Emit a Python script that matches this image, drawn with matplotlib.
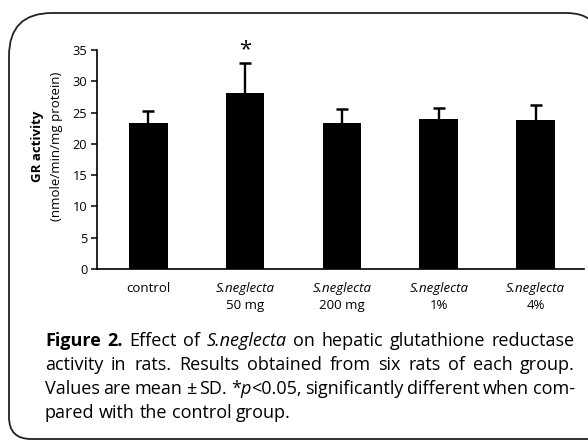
import matplotlib.pyplot as plt
from matplotlib.path import Path
from matplotlib.patches import PathPatch
import numpy as np

plt.rcParams['font.family'] = ['Open Sans', 'DejaVu Sans']

# data
names = ["control", "S.neglecta", "S.neglecta", "S.neglecta", "S.neglecta"]
doses = ["", "50 mg", "200 mg", "1%", "4%"]
means = [23.3, 28.2, 23.3, 24.0, 23.8]
sds = [2.0, 4.8, 2.2, 1.8, 2.4]
marks = ["", "*", "", "", ""]
y_ticks = [0, 5, 10, 15, 20, 25, 30, 35]

W, H = 588, 441
fig = plt.figure(figsize=(W / 100, H / 100), dpi=100)

# background axes in pixel coordinates for frame, labels and caption
bg = fig.add_axes([0, 0, 1, 1], zorder=0)
bg.set_xlim(0, W)
bg.set_ylim(H, 0)
bg.axis("off")

# rounded frame round the figure
verts = [(598, 40), (598, 13), (566, 13),
         (52, 13), (9, 13), (9, 56),
         (9, 417), (9, 439), (31, 439),
         (600, 439)]
codes = [Path.MOVETO, Path.CURVE3, Path.CURVE3,
         Path.LINETO, Path.CURVE3, Path.CURVE3,
         Path.LINETO, Path.CURVE3, Path.CURVE3,
         Path.LINETO]
bg.add_patch(PathPatch(Path(verts, codes), fill=False, lw=1.3, ec="#222222"))

ax = fig.add_axes([97 / W, (H - 269) / H, (584 - 97) / W, (269 - 50) / H], zorder=1)
ax.patch.set_alpha(0)
x = np.arange(len(means))
tops = np.array(means) + np.array(sds)
ax.bar(x, means, width=0.40, color="black")
ax.vlines(x, means, tops, color="black", lw=1.7)
ax.plot(x, tops, ls="none", marker="_", ms=8, mew=1.8, color="black")
for xi, t, mk in zip(x, tops, marks):
    if mk:
        ax.annotate(mk, xy=(xi, t), xytext=(0, 1.5), textcoords="offset points",
                    ha="center", va="bottom", fontsize=16)

ax.set_xlim(-0.53, 4.5)
ax.set_ylim(0, 35)
ax.set_yticks(y_ticks)
ax.tick_params(axis="y", length=4.5, width=1.1, labelsize=9.2, pad=2.5)
ax.set_xticks([])
for side in ["top", "right"]:
    ax.spines[side].set_visible(False)
for side in ["left", "bottom"]:
    ax.spines[side].set_linewidth(1.2)

for xi, n, d in zip(x, names, doses):
    style = "normal" if n == "control" else "italic"
    ax.annotate(n, xy=(xi, 0), xycoords=("data", "axes fraction"), xytext=(0, -14),
                textcoords="offset points", ha="center", va="center", fontsize=9.5,
                style=style)
    if d:
        ax.annotate(d, xy=(xi, 0), xycoords=("data", "axes fraction"), xytext=(0, -26.5),
                    textcoords="offset points", ha="center", va="center", fontsize=9.5)

bg.text(37, 146, "GR activity", rotation=90, ha="center", va="center",
        fontsize=9.5, fontweight="bold")
bg.text(57, 146, "(nmole/min/mg protein)", rotation=90, ha="center", va="center",
        fontsize=9.5)

# caption, justified like the original
R = {}
I = {"style": "italic"}
B = {"fontweight": "bold"}
caption = [
    ([[("Figure", B)], [("2.", B)], [("Effect", R)], [("of", R)], [("S.neglecta", I)],
      [("on", R)], [("hepatic", R)], [("glutathione", R)], [("reductase", R)]], True),
    ([[("activity", R)], [("in", R)], [("rats.", R)], [("Results", R)], [("obtained", R)],
      [("from", R)], [("six", R)], [("rats", R)], [("of", R)], [("each", R)],
      [("group.", R)]], True),
    ([[("Values", R)], [("are", R)], [("mean", R)], [("\u00b1", R)], [("SD.", R)],
      [("*", R), ("p", I), ("<0.05,", R)], [("significantly", R)], [("different", R)],
      [("when", R)], [("com-", R)]], True),
    ([[("pared", R)], [("with", R)], [("the", R)], [("control", R)], [("group.", R)]], False),
]
line_y = [341, 365, 389, 413]
x0, x1 = 45, 575

renderer = fig.canvas.get_renderer()


def width_of(s, kw, size):
    t = bg.text(0, 0, s, fontsize=size, **kw)
    w = t.get_window_extent(renderer).width
    t.remove()
    return w


def word_width(word, size):
    return sum(width_of(s, kw, size) for s, kw in word)


base = 12.0
space = width_of("x x", R, base) - width_of("xx", R, base)
nat = sum(word_width(w, base) for w in caption[2][0]) + space * 0.8 * (len(caption[2][0]) - 1)
size = base * (x1 - x0) / nat
space = width_of("x x", R, size) - width_of("xx", R, size)

for (words, justify), yy in zip(caption, line_y):
    widths = [word_width(w, size) for w in words]
    gap = (x1 - x0 - sum(widths)) / (len(words) - 1) if justify else space
    cx = x0
    for w, ww in zip(words, widths):
        px = cx
        for s, kw in w:
            bg.text(px, yy, s, fontsize=size, ha="left", va="center", **kw)
            px += width_of(s, kw, size)
        cx += ww + gap

fig.savefig("out.png", dpi=100)
